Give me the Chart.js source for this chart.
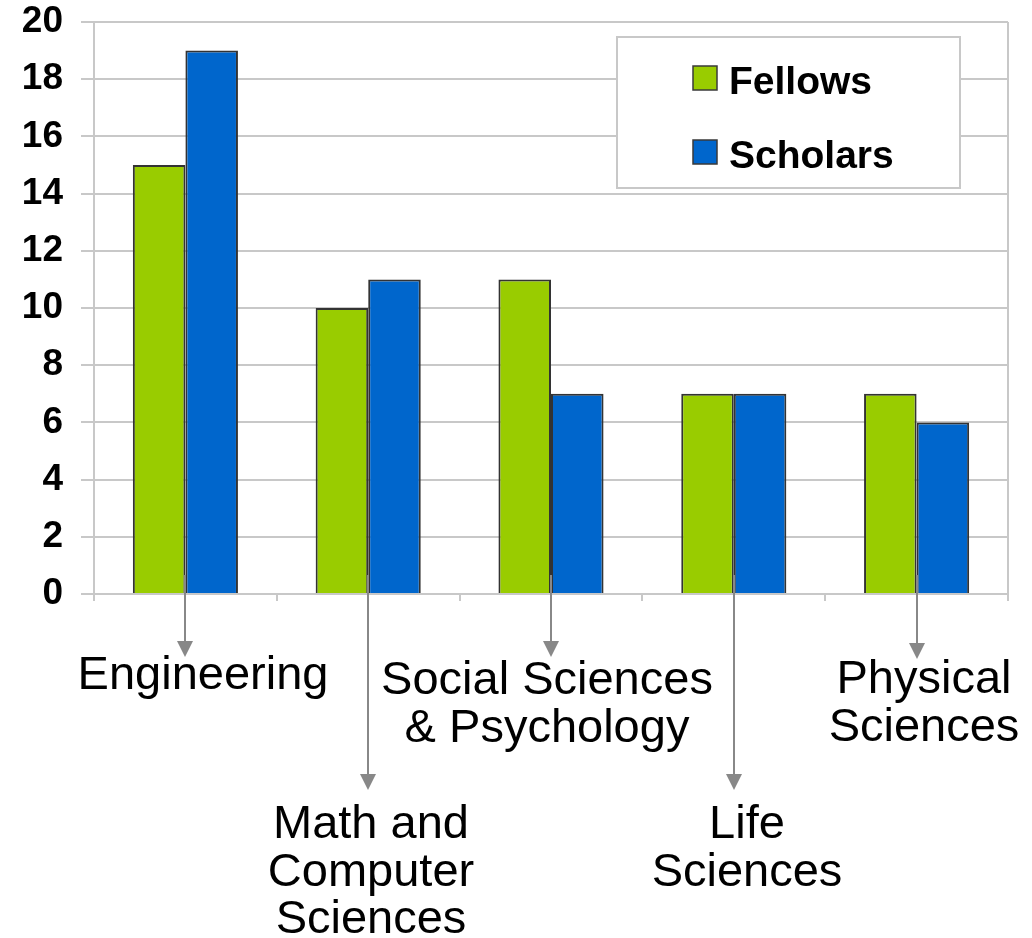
<!DOCTYPE html>
<html>
<head>
<meta charset="utf-8">
<script src="https://cdn.jsdelivr.net/npm/chart.js@4/dist/chart.umd.min.js"></script>
<style>
  html, body { margin: 0; padding: 0; background: #fff; }
  #wrap { width: 1032px; height: 938px; }
</style>
</head>
<body>
<div id="wrap"><canvas id="chart"></canvas></div>
<script>
// data
const categories = ['Engineering', 'Math and Computer Sciences', 'Social Sciences & Psychology', 'Life Sciences', 'Physical Sciences'];
const fellows = [15, 10, 11, 7, 7];
const scholars = [19, 11, 7, 7, 6];
const yTicks = [0, 2, 4, 6, 8, 10, 12, 14, 16, 18, 20];

// how each category label is laid out below the axis
const labelLines = [
    ['Engineering'],
    ['Math and', 'Computer', 'Sciences'],
    ['Social Sciences', '& Psychology'],
    ['Life', 'Sciences'],
    ['Physical', 'Sciences']
];
const labelShift = [18, 3, -4, 13, 7];   // label centre offset from arrow
const arrowTip = [657, 790, 657, 790, 659];
const firstBaseline = [689, 838, 694, 838, 693];

const FONT = '"Liberation Sans", Arial, Helvetica, sans-serif';
const GREEN = '#99cc00';
const BLUE = '#0066cc';
const GRID = '#c8c8c8';

const decorPlugin = {
    id: 'decor',
    beforeDatasetsDraw(chart) {
        const ctx = chart.ctx;
        const a = chart.chartArea;
        ctx.save();
        ctx.strokeStyle = GRID;
        ctx.lineWidth = 2;
        ctx.beginPath();
        ctx.moveTo(a.right, a.top);
        ctx.lineTo(a.right, a.bottom);
        ctx.stroke();
        ctx.restore();
    },
    afterDatasetsDraw(chart) {
        const ctx = chart.ctx;
        const x = chart.scales.x;
        ctx.save();

        // arrows and category labels
        categories.forEach(function(c, i) {
            const px = Math.round(x.getPixelForValue(i));
            const tip = arrowTip[i];
            ctx.strokeStyle = '#888888';
            ctx.fillStyle = '#888888';
            ctx.lineWidth = 2;
            ctx.beginPath();
            ctx.moveTo(px, 575);
            ctx.lineTo(px, tip - 14);
            ctx.stroke();
            ctx.beginPath();
            ctx.moveTo(px - 8, tip - 16);
            ctx.lineTo(px + 8, tip - 16);
            ctx.lineTo(px, tip);
            ctx.closePath();
            ctx.fill();

            ctx.fillStyle = '#000';
            ctx.font = '47px ' + FONT;
            ctx.textAlign = 'center';
            ctx.textBaseline = 'alphabetic';
            labelLines[i].forEach(function(line, k) {
                ctx.fillText(line, px + labelShift[i], firstBaseline[i] + k * 47.5);
            });
        });

        // legend box
        ctx.fillStyle = '#fff';
        ctx.fillRect(617, 37, 343, 151);
        ctx.strokeStyle = GRID;
        ctx.lineWidth = 2;
        ctx.strokeRect(617, 37, 343, 151);

        const items = [['Fellows', GREEN, 66], ['Scholars', BLUE, 140]];
        items.forEach(function(it) {
            ctx.fillStyle = it[1];
            ctx.fillRect(693, it[2], 24, 24);
            ctx.strokeStyle = '#3a3a3a';
            ctx.lineWidth = 1.5;
            ctx.strokeRect(693, it[2], 24, 24);
            ctx.fillStyle = '#000';
            ctx.font = 'bold 39px ' + FONT;
            ctx.textAlign = 'left';
            ctx.textBaseline = 'alphabetic';
            ctx.fillText(it[0], 729, it[2] + 28);
        });
        ctx.restore();
    }
};

new Chart(document.getElementById('chart'), {
    type: 'bar',
    data: {
        labels: categories,
        datasets: [
            { label: 'Fellows', data: fellows, backgroundColor: GREEN, borderColor: '#333333', borderWidth: 2 },
            { label: 'Scholars', data: scholars, backgroundColor: BLUE, borderColor: '#333333', borderWidth: 2 }
        ]
    },
    options: {
        responsive: true,
        maintainAspectRatio: false,
        animation: false,
        layout: { padding: { top: 22, right: 24, left: 0, bottom: 0 } },
        datasets: { bar: { barPercentage: 1, categoryPercentage: 0.575 } },
        plugins: {
            legend: { display: false },
            tooltip: { enabled: false }
        },
        scales: {
            x: {
                offset: true,
                afterFit: function(s) { s.height = 344; s.paddingLeft = 0; s.paddingRight = 0; },
                grid: { display: true, drawOnChartArea: false, offset: true, color: GRID, lineWidth: 2, tickLength: 7 },
                border: { color: GRID, width: 2 },
                ticks: { display: false }
            },
            y: {
                min: 0,
                max: 20,
                afterFit: function(s) { s.width = 94; s.paddingTop = 0; s.paddingBottom = 0; },
                afterBuildTicks: function(s) { s.ticks = yTicks.map(function(v) { return { value: v }; }); },
                grid: { color: GRID, lineWidth: 2, tickLength: 13 },
                border: { color: GRID, width: 2 },
                ticks: {
                    padding: 18,
                    color: '#000',
                    font: { family: FONT, size: 37, weight: 'bold' }
                }
            }
        }
    },
    plugins: [decorPlugin]
});
</script>
</body>
</html>
